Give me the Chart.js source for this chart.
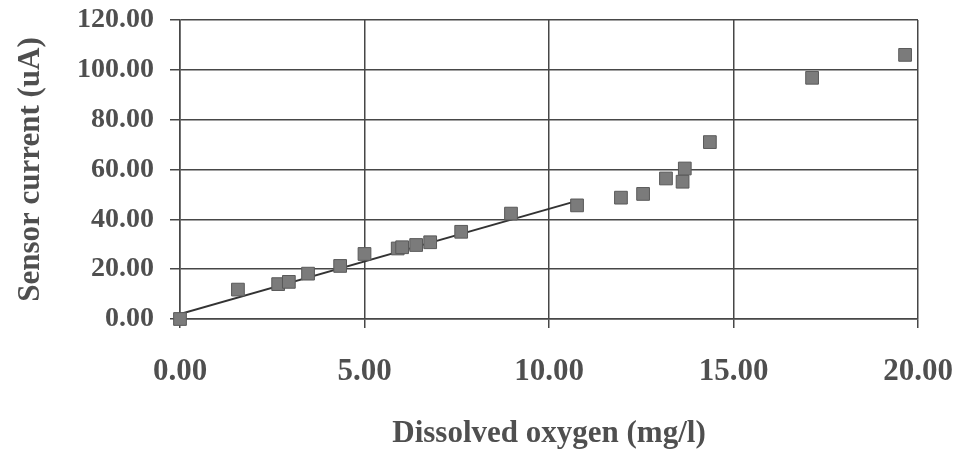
<!DOCTYPE html>
<html>
<head>
<meta charset="utf-8">
<script src="https://cdn.jsdelivr.net/npm/chart.js@4.4.0/dist/chart.umd.min.js"></script>
<style>
  html, body { margin: 0; padding: 0; background: #fff; }
  #wrap { width: 958px; height: 451px; }
</style>
</head>
<body>
<div id="wrap"><canvas id="grafico"></canvas></div>
<script>
// dati
const oxygen = [0.00, 1.57, 2.66, 2.95, 3.47, 4.34, 5.00, 5.90, 6.02, 6.40, 6.78, 7.62, 8.97, 10.76, 11.95, 12.55, 13.17, 13.62, 13.68, 14.36, 17.13, 19.65];
const current = [0.00, 11.8, 14.0, 14.9, 18.2, 21.3, 26.1, 28.3, 28.8, 29.7, 30.8, 35.0, 42.3, 45.6, 48.7, 50.2, 56.4, 55.1, 60.4, 71.0, 96.8, 106.0];
const fitX = [0.00, 10.76];
const fitY = [2.0, 47.4];
const xTicks = [0, 5, 10, 15, 20];
const yTicks = [0, 20, 40, 60, 80, 100, 120];

const textColor = '#4f4f4f';
const gridColor = '#474747';

document.addEventListener('DOMContentLoaded', function() {
  const ctx = document.getElementById('grafico').getContext('2d');
  new Chart(ctx, {
    type: 'scatter',
    data: {
      datasets: [{
        label: 'Misure',
        data: oxygen.map((x, i) => ({ x: x, y: current[i] })),
        pointStyle: 'rect',
        pointRadius: 9,
        backgroundColor: '#7b7b7b',
        borderColor: '#5a5a5a',
        borderWidth: 1,
        clip: false,
        order: 0
      }, {
        label: 'Retta',
        data: fitX.map((x, i) => ({ x: x, y: fitY[i] })),
        showLine: true,
        pointRadius: 0,
        borderColor: '#333',
        borderWidth: 2,
        order: 1
      }]
    },
    options: {
      responsive: true,
      maintainAspectRatio: false,
      animation: false,
      layout: { padding: { top: 20, right: 40, left: 0, bottom: 0 } },
      plugins: { legend: { display: false }, tooltip: { enabled: false } },
      scales: {
        x: {
          type: 'linear',
          min: 0, max: 20,
          afterBuildTicks: function(scale) { scale.ticks = xTicks.map(v => ({ value: v })); },
          afterFit: function(scale) {
            scale.height = 132;
            scale.paddingLeft = 0;
            scale.paddingRight = 0;
          },
          grid: { color: gridColor, lineWidth: 1.5, tickLength: 9 },
          border: { color: gridColor, width: 1.5 },
          ticks: {
            color: textColor,
            padding: 25,
            font: { family: 'Liberation Serif', weight: 'bold', size: 31 },
            callback: function(value) { return Number(value).toFixed(2); }
          },
          title: {
            display: true,
            text: 'Dissolved oxygen (mg/l)',
            color: textColor,
            font: { family: 'Liberation Serif', weight: 'bold', size: 31, lineHeight: 1.05 },
            padding: { top: 0, bottom: 1 }
          }
        },
        y: {
          type: 'linear',
          min: 0, max: 120,
          afterBuildTicks: function(scale) { scale.ticks = yTicks.map(v => ({ value: v })); },
          afterFit: function(scale) {
            scale.width = 180;
            scale.paddingTop = 0;
            scale.paddingBottom = 0;
          },
          grid: { color: gridColor, lineWidth: 1.5, tickLength: 10 },
          border: { color: gridColor, width: 1.5 },
          ticks: {
            color: textColor,
            padding: 16,
            font: { family: 'Liberation Serif', weight: 'bold', size: 28 },
            callback: function(value) { return Number(value).toFixed(2); }
          },
          title: {
            display: true,
            text: 'Sensor current (uA)',
            color: textColor,
            font: { family: 'Liberation Serif', weight: 'bold', size: 31 },
            padding: { top: 12, bottom: 0 }
          }
        }
      }
    }
  });
});
</script>
</body>
</html>
